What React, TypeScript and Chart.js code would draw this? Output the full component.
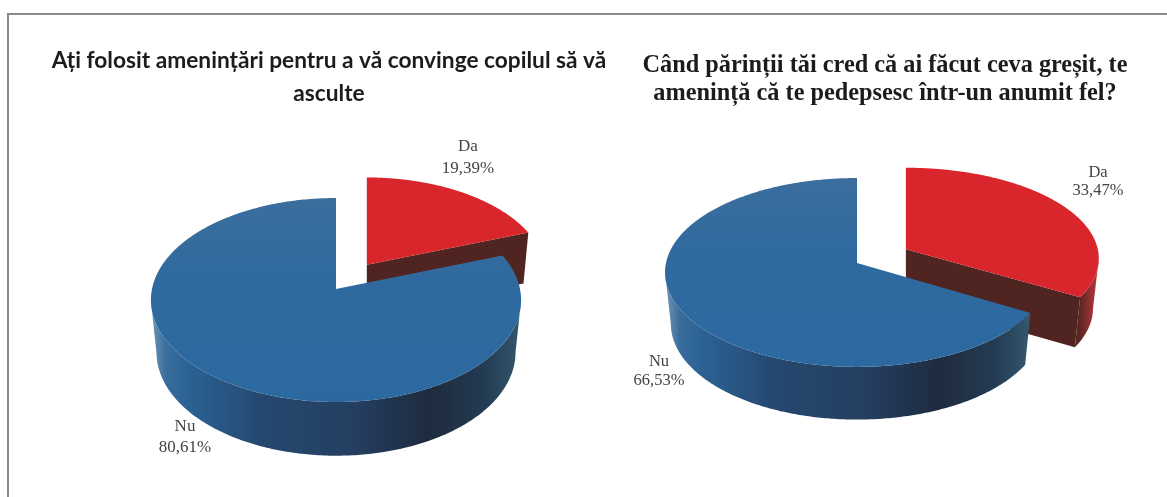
import React, { useEffect, useRef } from "react";
import { Chart, registerables } from "chart.js";

Chart.register(...registerables);

const categories = ["Da", "Nu"];
const leftValues = [19.39, 80.61];
const rightValues = [33.47, 66.53];
const leftTitle = ["Ați folosit amenințări pentru a vă convinge copilul să vă", "asculte"];
const rightTitle = ["Când părinții tăi cred că ai făcut ceva greșit, te", "amenință că te pedepsesc într-un anumit fel?"];
const topColors = ["#d8262c", "#2c69a0"];
const cutColors = ["#4f2421", "#1e2b3e"];

type Cfg = {
  left: number; width: number; cx: number; cy: number; R: number; Ry: number; k: number;
  depth: number; offset: number; titleLines: string[]; values: number[];
  titleFont: any; titleTop: number; labelFont: string; sliceScale: [number, number];
  labels: { x: number; y1: number; y2: number }[];
};

function addStops(g: CanvasGradient, stops: [number, string][]) {
  stops.forEach(([p, c]) => g.addColorStop(p, c));
  return g;
}

const pie3d = (cfg: Cfg) => ({
  id: "pie3d",
  beforeDatasetsDraw(chart: any) {
    const ctx: CanvasRenderingContext2D = chart.ctx;
    const meta = chart.getDatasetMeta(0);
    const { cx, cy, R, Ry, k, depth } = cfg;
    const bottomScale = 0.97;
    const local = (u: number, v: number) => {
      const d = 1 + k * v;
      return { x: (R * u) / d, y: (-Ry * v) / d };
    };
    const poly = (pts: { x: number; y: number }[]) => {
      ctx.beginPath();
      pts.forEach((p, i) => (i ? ctx.lineTo(p.x, p.y) : ctx.moveTo(p.x, p.y)));
      ctx.closePath();
    };
    meta.data.forEach((el: any, i: number) => {
      const s = el.startAngle;
      const e = el.endAngle;
      const mid = (s + e) / 2;
      const off = (el.options.offset || 0) / el.outerRadius;
      const exploded = off > 0;
      const T = local(Math.cos(mid) * off, -Math.sin(mid) * off);
      const ssx = exploded ? cfg.sliceScale[0] : 1;
      const ssy = exploded ? cfg.sliceScale[1] : 1;
      const d = exploded ? depth - 1 : depth;
      const top = (u: number, v: number) => {
        const L = local(u, v);
        return { x: cx + T.x + ssx * L.x, y: cy + T.y + ssy * L.y };
      };
      const bot = (u: number, v: number) => {
        const L = local(u, v);
        return {
          x: cx + T.x + bottomScale * ssx * L.x,
          y: cy + T.y + ssy * L.y + d - (exploded ? 0 : 1.7 * v),
        };
      };
      const rim: [number, number][] = [];
      const steps = 360;
      for (let j = 0; j <= steps; j++) {
        const a = s + ((e - s) * j) / steps;
        rim.push([Math.cos(a), -Math.sin(a)]);
      }
      const topRim = rim.map(([u, v]) => top(u, v));
      const xs = topRim.map((p) => p.x);
      const minX = Math.min(...xs);
      const maxX = Math.max(...xs);
      const wall = ctx.createLinearGradient(minX, 0, maxX, 0);
      if (i === 0) {
        addStops(wall, [[0, "#4f2421"], [0.9, "#5a2523"], [1, "#c23a3e"]]);
      } else {
        addStops(wall, [
          [0, "#7397b3"], [0.04, "#3a6d9c"], [0.1, "#2b6294"], [0.3, "#25486f"],
          [0.55, "#243f60"], [0.75, "#1e2b3e"], [0.9, "#233b52"], [1, "#33586e"],
        ]);
      }
      // outer wall: only the part of the rim that faces the viewer
      const front = rim.filter(([, v]) => v < -k);
      if (front.length > 1) {
        ctx.fillStyle = wall;
        poly([
          ...front.map(([u, v]) => top(u, v)),
          ...[...front].reverse().map(([u, v]) => bot(u, v)),
        ]);
        ctx.fill();
      }
      // cut faces turned to the viewer
      const faces = [
        { edge: rim[0], visible: Math.cos(s) < -0.001 },
        { edge: rim[steps], visible: Math.cos(e) > 0.001 },
      ];
      faces.forEach((f) => {
        if (!f.visible) return;
        ctx.fillStyle = cutColors[i];
        poly([top(0, 0), top(f.edge[0], f.edge[1]), bot(f.edge[0], f.edge[1]), bot(0, 0)]);
        ctx.fill();
      });
      // top face
      const face = ctx.createLinearGradient(0, cy - Ry, 0, cy + Ry);
      if (i === 0) {
        addStops(face, [[0, el.options.backgroundColor], [1, el.options.backgroundColor]]);
      } else {
        addStops(face, [[0, "#3d6e9d"], [0.45, "#2f6a9f"], [1, el.options.backgroundColor]]);
      }
      ctx.fillStyle = face;
      poly([top(0, 0), ...topRim]);
      ctx.fill();
    });
    // value labels
    ctx.textAlign = "center";
    ctx.textBaseline = "middle";
    ctx.fillStyle = "#444444";
    ctx.font = cfg.labelFont;
    cfg.labels.forEach((l, i) => {
      ctx.fillText(categories[i], l.x, l.y1);
      ctx.fillText(cfg.values[i].toFixed(2).replace(".", ",") + "%", l.x, l.y2);
    });
    return false;
  },
});

function Pie3D({ cfg }: { cfg: Cfg }) {
  const ref = useRef<HTMLCanvasElement>(null);
  useEffect(() => {
    const chart = new Chart(ref.current!, {
      type: "pie",
      data: {
        labels: categories,
        datasets: [{ data: cfg.values, backgroundColor: topColors, borderWidth: 0, offset: [cfg.offset, 0] }],
      },
      options: {
        responsive: false,
        animation: false,
        events: [],
        layout: { padding: 0 },
        plugins: {
          legend: { display: false },
          tooltip: { enabled: false },
          title: {
            display: true,
            text: cfg.titleLines,
            color: "#1c1c1c",
            font: cfg.titleFont,
            padding: { top: cfg.titleTop, bottom: 0 },
          },
        },
      },
      plugins: [pie3d(cfg)],
    } as any);
    return () => chart.destroy();
  }, [cfg]);
  return (
    <canvas
      ref={ref}
      width={cfg.width}
      height={497}
      style={{ position: "absolute", left: cfg.left, top: 0, width: cfg.width, height: 497, filter: "blur(0.6px)" }}
    />
  );
}

const leftCfg: Cfg = {
  left: 30, width: 598, cx: 306, cy: 289, R: 184, Ry: 100.8, k: 0.108, depth: 52, offset: 50.6,
  titleLines: leftTitle, values: leftValues, sliceScale: [0.97, 0.96],
  titleFont: { family: "Lato", size: 22.7, weight: "bold", lineHeight: 1.45 }, titleTop: 44,
  labelFont: "17px 'Liberation Serif'",
  labels: [{ x: 438, y1: 147, y2: 169 }, { x: 155, y1: 427, y2: 448 }],
};

const rightCfg: Cfg = {
  left: 620, width: 530, cx: 237, cy: 263, R: 191, Ry: 93.5, k: 0.1, depth: 51, offset: 50.6,
  titleLines: rightTitle, values: rightValues, sliceScale: [1.005, 0.96],
  titleFont: { family: "Liberation Serif", size: 24.3, weight: "bold", lineHeight: 1.15 }, titleTop: 52,
  labelFont: "16.5px 'Liberation Serif'",
  labels: [{ x: 478, y1: 173, y2: 191 }, { x: 39, y1: 362, y2: 381 }],
};

export default function App() {
  return (
    <div style={{ position: "fixed", left: 0, top: 0, width: 1167, height: 497, background: "#fff", overflow: "hidden" }}>
      <div style={{ position: "absolute", left: 7, top: 13, width: 1160, height: 2, background: "#8a8a8a" }} />
      <div style={{ position: "absolute", left: 7, top: 13, width: 2, height: 484, background: "#8a8a8a" }} />
      <Pie3D cfg={leftCfg} />
      <Pie3D cfg={rightCfg} />
    </div>
  );
}
